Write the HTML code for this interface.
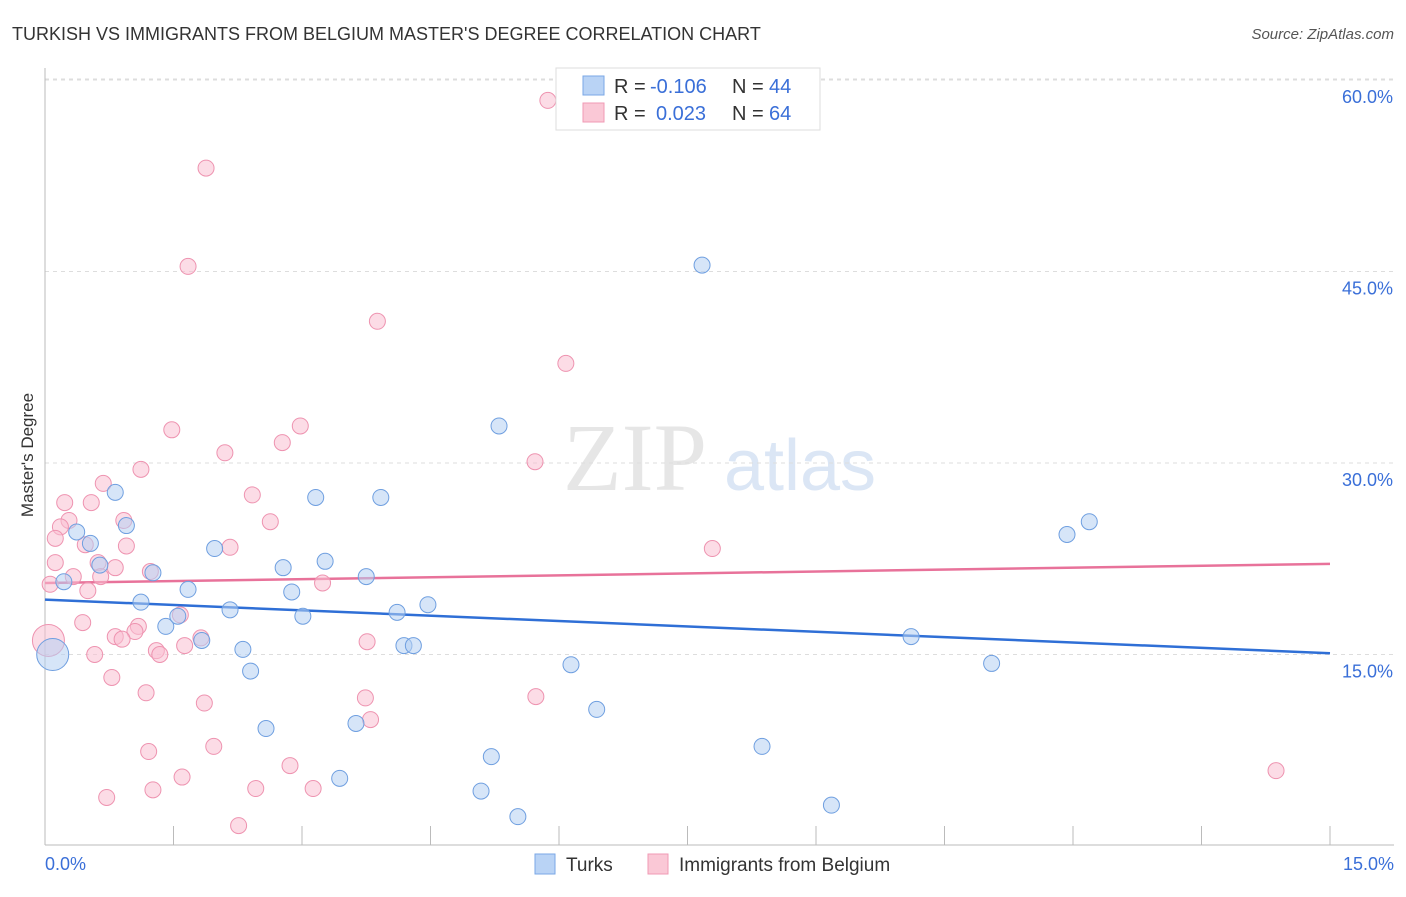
<!DOCTYPE html>
<html><head><meta charset="utf-8"><style>
body{margin:0;background:#fff;font-family:"Liberation Sans",sans-serif;}
svg text{font-family:"Liberation Sans",sans-serif;}
</style></head><body>
<svg id="chart" width="1406" height="892">
<text x="12" y="40" font-size="18" fill="#333">TURKISH VS IMMIGRANTS FROM BELGIUM MASTER'S DEGREE CORRELATION CHART</text>
<text x="1394" y="39" font-size="15" fill="#555" text-anchor="end" font-style="italic">Source: ZipAtlas.com</text>
<text x="33" y="455" font-size="17" fill="#333" text-anchor="middle" transform="rotate(-90 33 455)">Master's Degree</text>
<g><text x="635" y="490" font-size="96" fill="#e6e6e6" text-anchor="middle" style="font-family:'Liberation Serif',serif">ZIP</text><text x="800" y="490" font-size="72" fill="#dbe6f5" text-anchor="middle">atlas</text></g>
<g id="grid"></g><g id="ticks"></g><g id="lines"></g><g id="pts"></g>
<g>
<rect x="556" y="68" width="264" height="62" fill="#fff" stroke="#ddd"/>
<rect x="583" y="76" width="21" height="19" fill="#b9d3f5" stroke="#7aa7e6"/>
<rect x="583" y="103" width="21" height="19" fill="#fac8d6" stroke="#f09ab4"/>
<text y="93" font-size="20" fill="#333"><tspan x="614">R =</tspan><tspan x="650" fill="#3a6fd8">-0.106</tspan><tspan x="732">N =</tspan><tspan x="769" fill="#3a6fd8">44</tspan></text>
<text y="120" font-size="20" fill="#333"><tspan x="614">R =</tspan><tspan x="656" fill="#3a6fd8">0.023</tspan><tspan x="732">N =</tspan><tspan x="769" fill="#3a6fd8">64</tspan></text>
</g>
<g>
<rect x="535" y="854" width="20" height="20" fill="#b9d3f5" stroke="#7aa7e6"/>
<text x="566" y="871" font-size="19" fill="#333">Turks</text>
<rect x="648" y="854" width="20" height="20" fill="#fac8d6" stroke="#f09ab4"/>
<text x="679" y="871" font-size="19" fill="#333">Immigrants from Belgium</text>
</g>
</svg>
<script>
const yTicks=[15,30,45,60];
const xTickLabels=["0.0%","15.0%"];
const blueX=[0.09,0.22,0.37,0.53,0.82,0.95,1.12,1.26,1.41,1.55,1.67,1.83,1.98,2.16,2.31,2.40,2.58,2.78,2.88,3.01,3.16,3.27,3.44,3.63,3.75,3.92,4.11,4.19,4.30,4.47,5.09,5.21,5.30,5.52,6.14,6.44,7.67,8.37,9.18,10.11,11.05,11.93,12.19,0.64];
const blueY=[15.0,20.7,24.6,23.7,27.7,25.1,19.1,21.4,17.2,18.0,20.1,16.1,23.3,18.5,15.4,13.7,9.2,21.8,19.9,18.0,27.3,22.3,5.3,9.6,21.1,27.3,18.3,15.7,15.7,18.9,4.3,7.0,32.9,2.3,14.2,10.7,45.5,7.8,3.2,16.4,14.3,24.4,25.4,22.0];
const pinkX=[5.87,1.88,1.67,3.88,6.08,1.48,2.98,2.77,2.10,5.72,1.12,0.68,2.42,0.23,0.54,2.63,0.92,0.28,0.18,0.12,0.47,0.95,2.16,7.79,0.12,0.62,0.82,1.23,0.33,0.65,3.24,0.06,0.50,1.58,0.44,1.09,1.05,0.82,0.90,1.82,0.04,3.76,1.63,1.30,1.34,0.58,0.78,1.18,3.74,5.73,1.86,3.80,1.97,1.21,2.86,1.60,14.37,1.26,2.46,3.13,0.72,2.26];
const pinkY=[58.4,53.1,45.4,41.1,37.8,32.6,32.9,31.6,30.8,30.1,29.5,28.4,27.5,26.9,26.9,25.4,25.5,25.5,25.0,24.1,23.6,23.5,23.4,23.3,22.2,22.2,21.8,21.5,21.1,21.1,20.6,20.5,20.0,18.1,17.5,17.2,16.8,16.4,16.2,16.3,16.1,16.0,15.7,15.3,15.0,15.0,13.2,12.0,11.6,11.7,11.2,9.9,7.8,7.4,6.3,5.4,5.9,4.4,4.5,4.5,3.8,1.6];
const blueTrend=[19.3,15.1];
const pinkTrend=[20.6,22.1];
const X=v=>45+v/15*1285, Y=v=>846-v/15*191.5;
const NS="http://www.w3.org/2000/svg";
function mk(t,a,p){const e=document.createElementNS(NS,t);for(const k in a)e.setAttribute(k,a[k]);p.appendChild(e);return e;}
const grid=document.getElementById('grid'),ticks=document.getElementById('ticks'),lines=document.getElementById('lines'),pts=document.getElementById('pts');
yTicks.forEach(v=>{
 const l=mk('line',{x1:45,x2:1394,y1:Y(v),y2:Y(v),stroke:'#ddd','stroke-dasharray':'4,4'},grid);
 
 
 const t=mk('text',{x:1393,y:Y(v)+23,'font-size':18,fill:'#3a6fd8','text-anchor':'end'},grid);t.textContent=v.toFixed(1)+'%';
 
 
});
const topLine=mk('line',{x1:45,x2:1394,y1:79,y2:79,stroke:'#ddd','stroke-dasharray':'4,4'},grid);


const ax=mk('line',{x1:45,x2:1394,y1:845,y2:845,stroke:'#bbb'},ticks);


const ay=mk('line',{x1:45,x2:45,y1:68,y2:845,stroke:'#bbb'},ticks);


for(let i=1;i<=10;i++){
 const tk=mk('line',{x1:X(i*1.5),x2:X(i*1.5),y1:826,y2:845,stroke:'#bbb'},ticks);
 
 
}
const t0=mk('text',{x:45,y:870,'font-size':18,fill:'#3a6fd8'},ticks);t0.textContent=xTickLabels[0];


const t1=mk('text',{x:1394,y:870,'font-size':18,fill:'#3a6fd8','text-anchor':'end'},ticks);t1.textContent=xTickLabels[1];


function dots(xs,ys,fill,stroke,name,bigIdx){xs.forEach((x,i)=>{
 const c=mk('circle',{cx:X(x),cy:Y(ys[i]),r:i===bigIdx?16:8,fill:fill,stroke:stroke,'stroke-width':1,'fill-opacity':0.55},pts);
 
 
});}
dots(pinkX,pinkY,'#f9c0d1','#ee93b0','belgium-point',40);
dots(blueX,blueY,'#b5cff3','#6f9fe0','turks-point',0);
const bl=mk('line',{x1:X(0),x2:X(15),y1:Y(blueTrend[0]),y2:Y(blueTrend[1]),stroke:'#2f6fd6','stroke-width':2.5},lines);


const pl=mk('line',{x1:X(0),x2:X(15),y1:Y(pinkTrend[0]),y2:Y(pinkTrend[1]),stroke:'#e8729a','stroke-width':2.5},lines);


</script>
</body></html>
